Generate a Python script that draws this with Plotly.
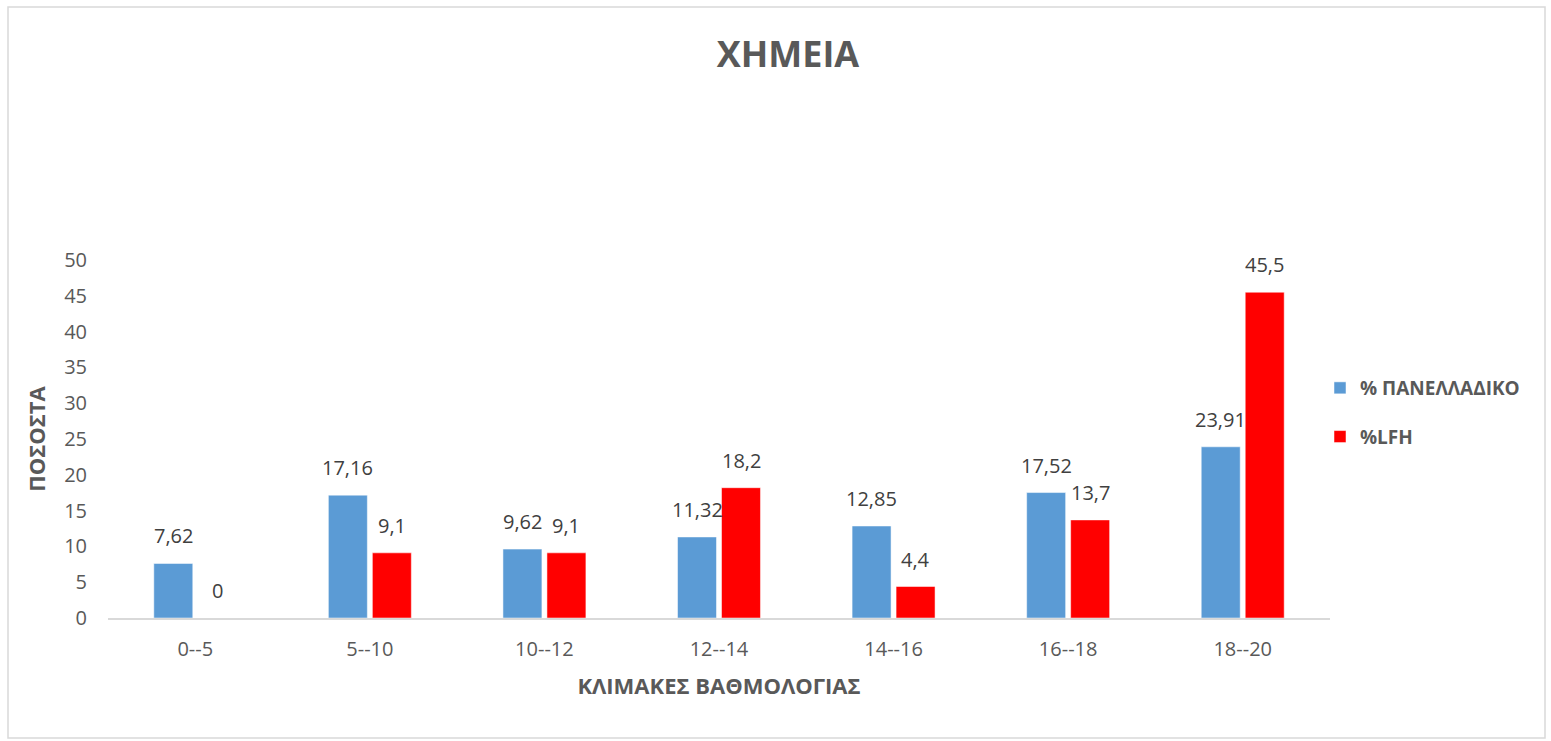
import plotly.graph_objects as go

categories = ["0--5", "5--10", "10--12", "12--14", "14--16", "16--18", "18--20"]
panelladiko = [7.62, 17.16, 9.62, 11.32, 12.85, 17.52, 23.91]
lfh = [0, 9.1, 9.1, 18.2, 4.4, 13.7, 45.5]
y_ticks = list(range(0, 55, 5))

FONT = "'Open Sans', sans-serif"
GREY = "#595959"


def lbl(v):
    return f"{v:g}".replace(".", ",")


fig = go.Figure()
fig.add_trace(go.Bar(x=categories, y=panelladiko, name="<b>% ΠΑΝΕΛΛΑΔΙΚΟ</b>", marker_color="#5b9bd5",
                     legendgroup="a"))
fig.add_trace(go.Bar(x=categories, y=lfh, name="<b>%LFH</b>", marker_color="#ff0000",
                     legendgroup="b"))

# data labels, shifted onto each bar of the group
for vals, dx in [(panelladiko, -22), (lfh, 22)]:
    for c, v in zip(categories, vals):
        fig.add_annotation(x=c, y=v, text=lbl(v), showarrow=False, xshift=dx, yshift=12,
                           yanchor="bottom", font=dict(size=20, color="#404040"))

W, H = 1551, 741
L, R, T, B = 108, 221, 260, 123
pw, ph = W - L - R, H - T - B
# light grey chart border
fig.add_shape(type="rect", xref="paper", yref="paper",
              x0=(8 - L) / pw, x1=(1545 - L) / pw, y0=(H - B - 738) / ph, y1=(H - B - 7) / ph,
              line=dict(color="#d9d9d9", width=1.5), layer="below")

fig.update_layout(
    width=W, height=H, template="plotly_white",
    margin=dict(l=L, r=R, t=T, b=B),
    font=dict(family=FONT, color=GREY),
    title=dict(text="<b>ΧΗΜΕΙΑ</b>", x=788 / W, xanchor="center", y=1 - 54 / H, yanchor="middle",
               font=dict(size=36, color=GREY)),
    barmode="group", bargap=0.496, bargroupgap=0.114,
    plot_bgcolor="white", paper_bgcolor="white",
    legend=dict(x=(1320 - L) / pw, y=(H - B - 369) / ph, xanchor="left", yanchor="top",
                font=dict(size=19, color=GREY), tracegroupgap=21, traceorder="grouped"),
    showlegend=True,
)
fig.update_xaxes(showgrid=False, showline=True, linecolor="#d9d9d9", linewidth=2,
                 tickfont=dict(size=20, color=GREY), ticks="", ticklabelstandoff=12,
                 title=dict(text="<b>ΚΛΙΜΑΚΕΣ ΒΑΘΜΟΛΟΓΙΑΣ</b>", font=dict(size=22, color=GREY), standoff=18))
fig.update_yaxes(range=[0, 50], tickvals=y_ticks, showgrid=False, zeroline=False, showline=False,
                 tickfont=dict(size=20, color=GREY), ticks="", ticklabelstandoff=20,
                 title=dict(text="<b>ΠΟΣΟΣΤΑ</b>", font=dict(size=22, color=GREY), standoff=12))

fig.write_html("out.html", post_script="document.body.style.margin='0';",
               config={"displayModeBar": False})
